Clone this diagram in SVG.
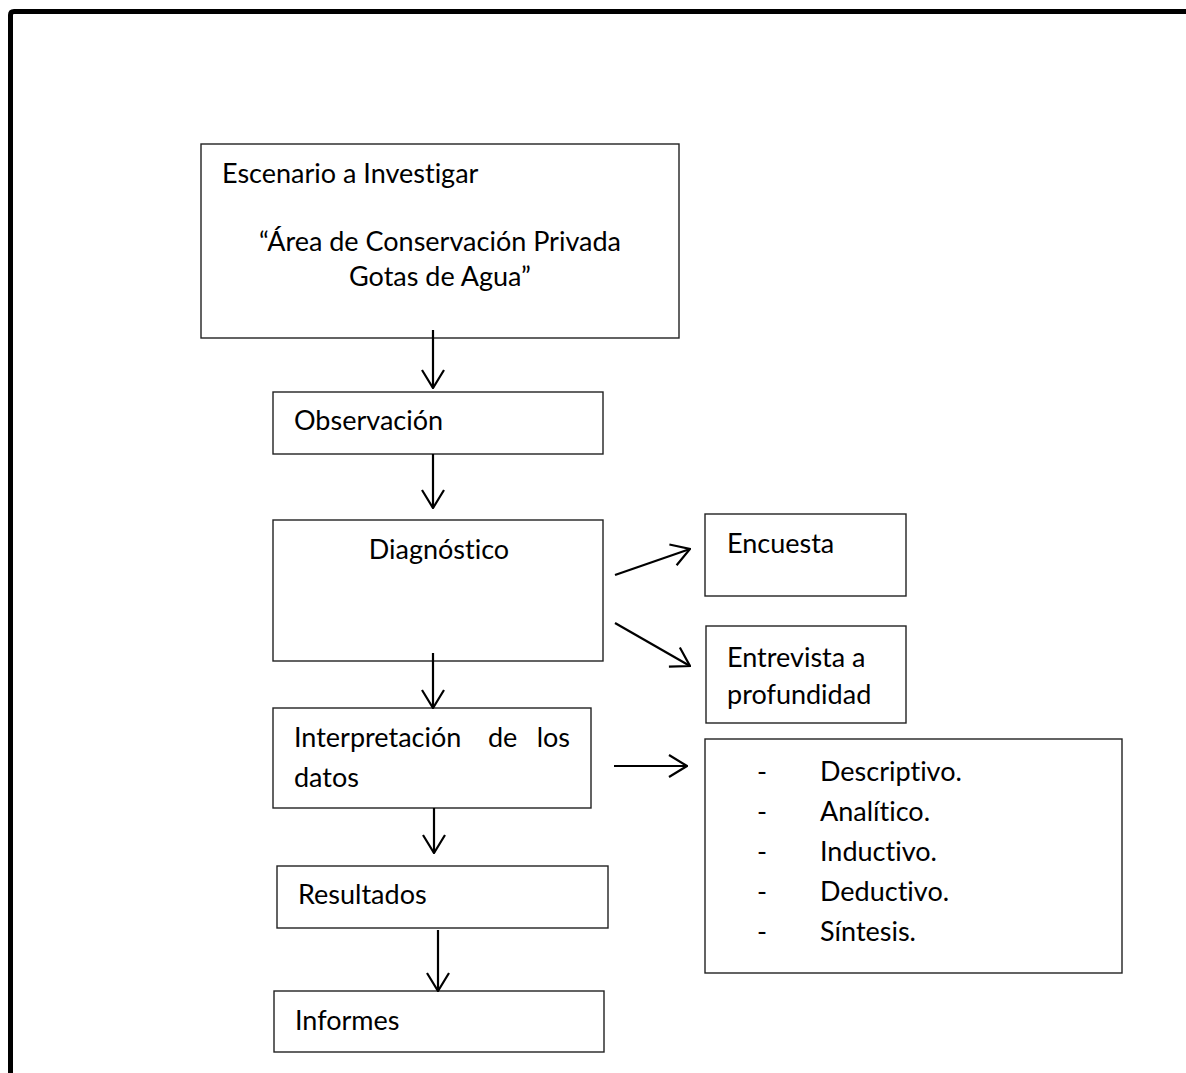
<svg xmlns="http://www.w3.org/2000/svg" width="1186" height="1073" viewBox="0 0 1186 1073">
<style>
.box{fill:#fff;stroke:#222;stroke-width:1.4}
.t{font-family:Lato,"Liberation Sans",sans-serif;font-size:27px;fill:#000;font-variant-ligatures:none}
.m{text-anchor:middle}
.c{stroke:#000;stroke-width:2.2;fill:none}
</style>
<defs>
<marker id="ah" viewBox="0 0 20 24" refX="19" refY="12" markerWidth="20" markerHeight="24" markerUnits="userSpaceOnUse" orient="auto">
<path d="M1,1 L19,12 L1,23" fill="none" stroke="#000" stroke-width="2.2"/>
</marker>
</defs>
<rect width="1186" height="1073" fill="#fff"/>
<path d="M10.5,1073 V15 Q10.5,11.5 14,11.5 H1186" fill="none" stroke="#000" stroke-width="5"/>
<g id="n-escenario">
<rect class="box" x="201" y="144" width="478" height="194"/>
<text class="t" x="222" y="183">Escenario a Investigar</text>
<text class="t m" x="440" y="251">“Área de Conservación Privada</text>
<text class="t m" x="440" y="286">Gotas de Agua”</text>
</g>
<g id="n-observacion">
<rect class="box" x="273" y="392" width="330" height="62"/>
<text class="t" x="294" y="430">Observación</text>
</g>
<g id="n-diagnostico">
<rect class="box" x="273" y="520" width="330" height="141"/>
<text class="t m" x="439" y="559">Diagnóstico</text>
</g>
<g id="n-encuesta">
<rect class="box" x="705" y="514" width="201" height="82"/>
<text class="t" x="727" y="553">Encuesta</text>
</g>
<g id="n-entrevista">
<rect class="box" x="706" y="626" width="200" height="97"/>
<text class="t" x="727" y="667">Entrevista a</text>
<text class="t" x="727" y="704">profundidad</text>
</g>
<g id="n-interpretacion">
<rect class="box" x="273" y="708" width="318" height="100"/>
<text class="t" x="294" y="747">Interpretación</text>
<text class="t" x="488" y="747">de</text>
<text class="t" x="570" y="747" text-anchor="end">los</text>
<text class="t" x="294" y="787">datos</text>
</g>
<g id="n-metodos">
<rect class="box" x="705" y="739" width="417" height="234"/>
<text class="t" x="757" y="781">-</text><text class="t" x="820" y="781">Descriptivo.</text>
<text class="t" x="757" y="821">-</text><text class="t" x="820" y="821">Analítico.</text>
<text class="t" x="757" y="861">-</text><text class="t" x="820" y="861">Inductivo.</text>
<text class="t" x="757" y="901">-</text><text class="t" x="820" y="901">Deductivo.</text>
<text class="t" x="757" y="941">-</text><text class="t" x="820" y="941">Síntesis.</text>
</g>
<g id="n-resultados">
<rect class="box" x="277" y="866" width="331" height="62"/>
<text class="t" x="298" y="904">Resultados</text>
</g>
<g id="n-informes">
<rect class="box" x="274" y="991" width="330" height="61"/>
<text class="t" x="295" y="1030">Informes</text>
</g>
<g id="connectors">
<line class="c" x1="433" y1="330" x2="433" y2="388" marker-end="url(#ah)"/>
<line class="c" x1="433" y1="454" x2="433" y2="508" marker-end="url(#ah)"/>
<line class="c" x1="433" y1="653" x2="433" y2="708" marker-end="url(#ah)"/>
<line class="c" x1="434" y1="808" x2="434" y2="853" marker-end="url(#ah)"/>
<line class="c" x1="438" y1="930" x2="438" y2="991" marker-end="url(#ah)"/>
<line class="c" x1="615" y1="575" x2="690" y2="549" marker-end="url(#ah)"/>
<line class="c" x1="615" y1="623" x2="690" y2="666" marker-end="url(#ah)"/>
<line class="c" x1="614" y1="766" x2="687" y2="766" marker-end="url(#ah)"/>
</g>
</svg>
